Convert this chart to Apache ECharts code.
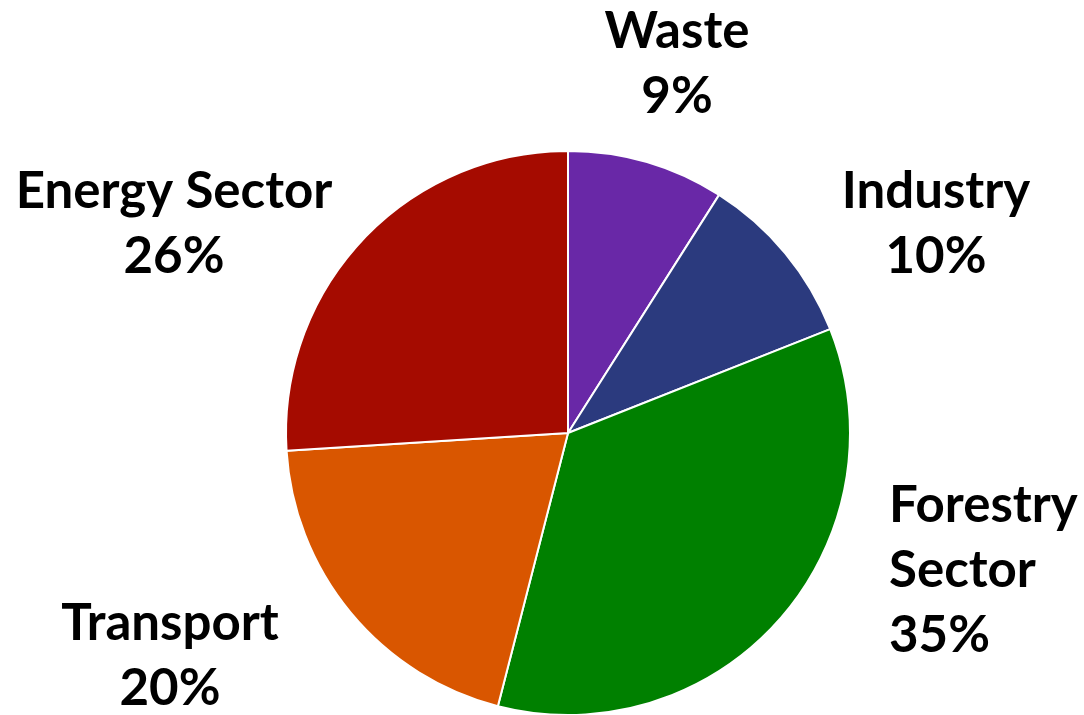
<!DOCTYPE html>
<html>
<head>
<meta charset="utf-8">
<script src="https://cdn.jsdelivr.net/npm/echarts@6/dist/echarts.min.js"></script>
<style>
  html, body { margin: 0; padding: 0; background: #ffffff; }
  #chart { width: 1084px; height: 715px; }
</style>
</head>
<body>
<div id="chart"></div>
<script>
// Share of emissions by sector (percent), clockwise from 12 o'clock
const sectors = ['Waste', 'Industry', 'Forestry\nSector', 'Transport', 'Energy Sector'];
const shares = [9, 10, 35, 20, 26];

const sliceColors = ['#6928A7', '#2B3A7E', '#008000', '#D95600', '#A50B00'];

// Where each label block sits (centre x / left x, vertical middle)
const labelSpots = [
  { x: 677, y: 64, align: 'center' },
  { x: 936, y: 224, align: 'center' },
  { x: 889, y: 571, align: 'left' },
  { x: 170, y: 656, align: 'center' },
  { x: 174, y: 224, align: 'center' }
];

const chart = echarts.init(document.getElementById('chart'), null, { renderer: 'canvas' });

chart.setOption({
  animation: false,
  backgroundColor: '#ffffff',
  series: [{
    type: 'pie',
    center: [568, 433],
    radius: [0, 282],
    startAngle: 90,
    clockwise: true,
    avoidLabelOverlap: false,
    data: sectors.map((name, i) => ({
      name,
      value: shares[i],
      itemStyle: { color: sliceColors[i] },
      label: { align: labelSpots[i].align }
    })),
    itemStyle: { borderColor: '#ffffff', borderWidth: 2 },
    label: {
      show: true,
      position: 'outside',
      formatter: p => p.name + '\n' + p.value + '%',
      fontFamily: 'Lato',
      fontWeight: 'bold',
      fontSize: 51,
      lineHeight: 65,
      color: '#000000'
    },
    labelLine: { show: false },
    labelLayout: p => {
      const s = labelSpots[p.dataIndex];
      return { x: s.x, y: s.y, align: s.align, verticalAlign: 'middle' };
    }
  }]
});
</script>
</body>
</html>
